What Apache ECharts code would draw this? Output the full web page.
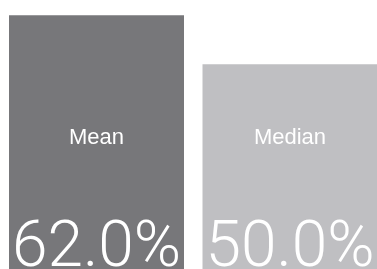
<!DOCTYPE html>
<html>
<head>
<meta charset="utf-8">
<script src="https://cdn.jsdelivr.net/npm/echarts@6/dist/echarts.min.js"></script>
<style>
  html, body { margin: 0; padding: 0; background: #ffffff; }
  #chart { width: 377px; height: 269px; }
</style>
</head>
<body>
<div id="chart"></div>
<script>
// 数据
var categories = ['Mean', 'Median'];
var values = [62.0, 50.0];
var barColors = ['#77777a', '#bfbfc2'];

var myChart = echarts.init(document.getElementById('chart'));
myChart.setOption({
  animation: false,
  // 类目在网格两端，柱子中心分别落在 96.5 / 290
  grid: { left: 96.5, right: 87, top: 0, bottom: 0 },
  xAxis: {
    type: 'category',
    data: categories,
    boundaryGap: false,
    axisLine: { show: false },
    axisTick: { show: false },
    splitLine: { show: false },
    axisLabel: {
      inside: true,
      margin: 131,
      verticalAlign: 'middle',
      color: '#ffffff',
      fontSize: 22,
      fontFamily: 'Liberation Sans'
    },
    z: 10
  },
  yAxis: {
    type: 'value',
    min: 0,
    max: 65.7,
    show: false,
    splitLine: { show: false }
  },
  series: [{
    type: 'bar',
    barWidth: 175,
    clip: false,
    data: values.map(function (v, i) {
      return { value: v, itemStyle: { color: barColors[i] } };
    }),
    label: {
      show: true,
      position: 'insideBottom',
      distance: -13,
      color: '#ffffff',
      fontSize: 64,
      fontFamily: 'Roboto',
      fontWeight: 300,
      formatter: function (p) { return p.value.toFixed(1) + '%'; }
    }
  }]
});
</script>
</body>
</html>
